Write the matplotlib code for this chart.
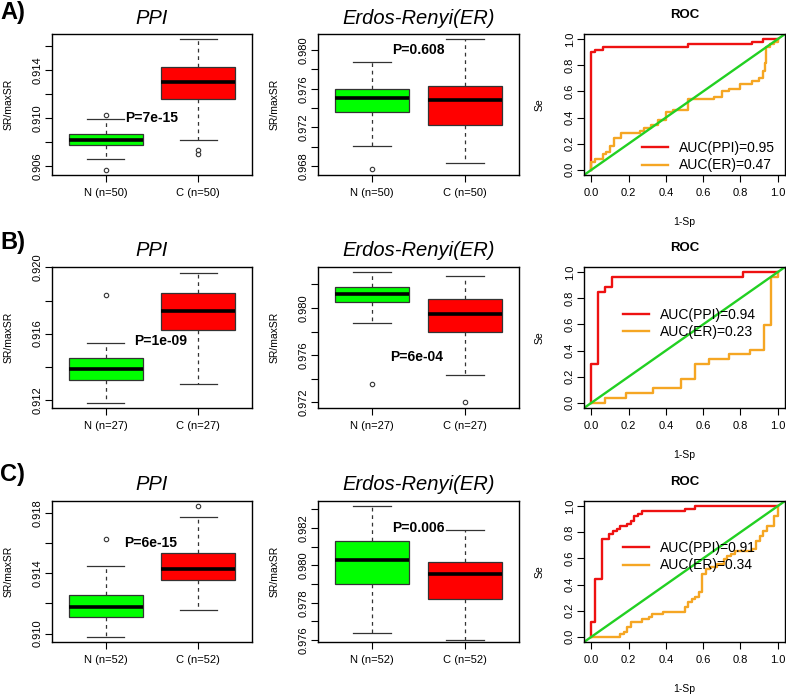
import numpy as np
import matplotlib.pyplot as plt

plt.rcParams['font.family'] = ['Liberation Sans', 'DejaVu Sans']

# box summaries: low whisker, q1, median, q3, high whisker
a_ppi_n = [0.90658, 0.90775, 0.90819, 0.90867, 0.90992]
a_ppi_c = [0.90817, 0.91161, 0.91297, 0.91422, 0.91656]
a_ppi_n_out = [0.91028, 0.90569]
a_ppi_c_out = [0.90730, 0.90703]
a_er_n = [0.97007, 0.97359, 0.97507, 0.97597, 0.97879]
a_er_c = [0.96828, 0.97227, 0.97483, 0.97631, 0.98111]
a_er_n_out = [0.96765]
a_er_c_out = []

b_ppi_n = [0.91183, 0.91318, 0.91384, 0.91453, 0.91544]
b_ppi_c = [0.91294, 0.91620, 0.91735, 0.91848, 0.91969]
b_ppi_n_out = [0.91831]
b_ppi_c_out = []
b_er_n = [0.97870, 0.98047, 0.98119, 0.98178, 0.98301]
b_er_c = [0.97433, 0.97793, 0.97946, 0.98079, 0.98267]
b_er_n_out = [0.97356]
b_er_c_out = [0.97200]

c_ppi_n = [0.90978, 0.91109, 0.91175, 0.91257, 0.91444]
c_ppi_c = [0.91157, 0.91352, 0.91426, 0.91535, 0.91773]
c_ppi_n_out = [0.91627]
c_ppi_c_out = [0.91845]
c_er_n = [0.97640, 0.97900, 0.98028, 0.98133, 0.98320]
c_er_c = [0.97603, 0.97821, 0.97954, 0.98020, 0.98190]
c_er_n_out = []
c_er_c_out = []

sizes = [50, 27, 52]
p_ppi = ['P=7e-15', 'P=1e-09', 'P=6e-15']
p_er = ['P=0.608', 'P=6e-04', 'P=0.006']
auc_ppi = [0.95, 0.94, 0.91]
auc_er = [0.47, 0.23, 0.34]

# ROC curves as (1-Sp, Se) corner points
roc_a_ppi = [(0, 0), (0, 0.90), (0.02, 0.90), (0.02, 0.92), (0.06, 0.92), (0.06, 0.94),
             (0.52, 0.94), (0.52, 0.96), (0.86, 0.96), (0.86, 0.98), (0.92, 0.98),
             (0.92, 1.0), (1, 1)]
roc_a_er = [(0, 0), (0, 0.06), (0.02, 0.06), (0.02, 0.08), (0.06, 0.08), (0.06, 0.12),
            (0.08, 0.12), (0.08, 0.14), (0.10, 0.14), (0.10, 0.18), (0.12, 0.18),
            (0.12, 0.24), (0.16, 0.24), (0.16, 0.28), (0.26, 0.28), (0.26, 0.30),
            (0.28, 0.30), (0.28, 0.32), (0.32, 0.32), (0.32, 0.34), (0.36, 0.34),
            (0.36, 0.38), (0.40, 0.38), (0.40, 0.44), (0.44, 0.44), (0.44, 0.46),
            (0.52, 0.46), (0.52, 0.54), (0.66, 0.54), (0.66, 0.56), (0.70, 0.56),
            (0.70, 0.60), (0.74, 0.60), (0.74, 0.62), (0.80, 0.62), (0.80, 0.66),
            (0.86, 0.66), (0.86, 0.68), (0.90, 0.68), (0.90, 0.70), (0.92, 0.70),
            (0.92, 0.76), (0.93, 0.76), (0.93, 0.82), (0.94, 0.82), (0.94, 0.94),
            (0.96, 0.94), (0.96, 0.96), (0.98, 0.96), (0.98, 0.98), (1, 0.98), (1, 1)]
roc_b_ppi = [(0, 0), (0, 0.296), (0.037, 0.296), (0.037, 0.852), (0.074, 0.852),
             (0.074, 0.889), (0.111, 0.889), (0.111, 0.963), (0.815, 0.963),
             (0.815, 1), (1, 1)]
roc_b_er = [(0, 0), (0.074, 0), (0.074, 0.037), (0.185, 0.037), (0.185, 0.074),
            (0.333, 0.074), (0.333, 0.111), (0.481, 0.111), (0.481, 0.185),
            (0.556, 0.185), (0.556, 0.296), (0.630, 0.296), (0.630, 0.333),
            (0.741, 0.333), (0.741, 0.370), (0.852, 0.370), (0.852, 0.407),
            (0.926, 0.407), (0.926, 0.593), (0.963, 0.593), (0.963, 0.963),
            (1, 0.963), (1, 1)]
roc_c_ppi = [(0, 0), (0, 0.115), (0.019, 0.115), (0.019, 0.442), (0.058, 0.442),
             (0.058, 0.75), (0.096, 0.75), (0.096, 0.788), (0.115, 0.788),
             (0.115, 0.808), (0.135, 0.808), (0.135, 0.827), (0.154, 0.827),
             (0.154, 0.846), (0.192, 0.846), (0.192, 0.865), (0.212, 0.865),
             (0.212, 0.885), (0.231, 0.885), (0.231, 0.923), (0.25, 0.923),
             (0.25, 0.942), (0.269, 0.942), (0.269, 0.962), (0.5, 0.962),
             (0.5, 0.981), (0.558, 0.981), (0.558, 1.0), (1, 1)]
roc_c_er = [(0, 0), (0.154, 0), (0.154, 0.019), (0.173, 0.019), (0.173, 0.038),
            (0.192, 0.038), (0.192, 0.077), (0.212, 0.077), (0.212, 0.115),
            (0.269, 0.115), (0.269, 0.135), (0.308, 0.135), (0.308, 0.154),
            (0.327, 0.154), (0.327, 0.173), (0.385, 0.173), (0.385, 0.192),
            (0.5, 0.192), (0.5, 0.231), (0.519, 0.231), (0.519, 0.269),
            (0.538, 0.269), (0.538, 0.288), (0.558, 0.288), (0.558, 0.308),
            (0.577, 0.308), (0.577, 0.346), (0.596, 0.346), (0.596, 0.481),
            (0.615, 0.481), (0.615, 0.519), (0.635, 0.519), (0.635, 0.538),
            (0.673, 0.538), (0.673, 0.558), (0.712, 0.558), (0.712, 0.596),
            (0.731, 0.596), (0.731, 0.615), (0.75, 0.615), (0.75, 0.635),
            (0.769, 0.635), (0.769, 0.654), (0.865, 0.654), (0.865, 0.673),
            (0.885, 0.673), (0.885, 0.731), (0.904, 0.731), (0.904, 0.769),
            (0.923, 0.769), (0.923, 0.808), (0.942, 0.808), (0.942, 0.846),
            (0.981, 0.846), (0.981, 0.923), (1.0, 0.923), (1.0, 1.0)]

W, H = 786, 694
fig = plt.figure(figsize=(W / 100, H / 100), dpi=100)
edge = '#333333'


def add_ax(l, t, r, b):
    return fig.add_axes([l / W, 1 - b / H, (r - l) / W, (b - t) / H])


def box_panel(ax, n_stats, c_stats, n_out, c_out, n, ylim, lo, step, count, every, ptext, pxy, title):
    stats = []
    for s, out in ((n_stats, n_out), (c_stats, c_out)):
        stats.append(dict(whislo=s[0], q1=s[1], med=s[2], q3=s[3], whishi=s[4], fliers=out))
    bp = ax.bxp(stats, positions=[1, 2], widths=0.8, capwidths=0.4, patch_artist=True,
                boxprops=dict(edgecolor=edge, linewidth=0.9),
                medianprops=dict(color='black', linewidth=2.6, solid_capstyle='butt'),
                whiskerprops=dict(color=edge, linewidth=0.9, linestyle=(0, (3, 3))),
                capprops=dict(color=edge, linewidth=0.9),
                flierprops=dict(marker='o', markersize=3.2, markerfacecolor='none',
                                markeredgecolor=edge, markeredgewidth=0.8))
    for patch, col in zip(bp['boxes'], ['#00ff00', '#ff0000']):
        patch.set_facecolor(col)
    ax.set_xlim(0.42, 2.58)
    ax.set_ylim(*ylim)
    ax.set_xticks([1, 2], [f'N (n={n})', f'C (n={n})'])
    ticks = [lo + i * step for i in range(count)]
    labels = [f'{t:.3f}' if i % every == 0 else '' for i, t in enumerate(ticks)]
    ax.set_yticks(ticks, labels, rotation=90, va='center')
    ax.tick_params(axis='y', direction='out', length=5, width=0.8, labelsize=8, pad=1.5)
    ax.tick_params(axis='x', direction='out', length=5, width=0.8, labelsize=8, pad=4.5)
    for s in ax.spines.values():
        s.set_linewidth(1.0)
    ax.text(pxy[0], pxy[1], ptext, ha='center', va='center', fontsize=10, fontweight='bold')
    ax.text(0.5, 1 + 16 / 141, title, transform=ax.transAxes, ha='center', va='center',
            fontsize=14.5, style='italic')
    ax.text(-43 / 200, 0.5, 'SR/maxSR', transform=ax.transAxes, rotation=90,
            ha='center', va='center', fontsize=7.5)


def roc_panel(ax, ppi, er, a1, a2, leg_xy):
    l1, = ax.plot([p[0] for p in ppi], [p[1] for p in ppi], color='#ee1111', lw=1.7)
    l2, = ax.plot([p[0] for p in er], [p[1] for p in er], color='#f5a623', lw=1.7)
    ax.axline((0, 0), (1, 1), color='#22d022', lw=1.7)
    ax.set_xlim(-0.04, 1.04)
    ax.set_ylim(-0.04, 1.04)
    t = [0, 0.2, 0.4, 0.6, 0.8, 1.0]
    ax.set_xticks(t, [f'{v:.1f}' for v in t])
    ax.set_yticks(t, [f'{v:.1f}' for v in t], rotation=90, va='center')
    ax.tick_params(axis='y', direction='out', length=5, width=0.8, labelsize=8, pad=1.5)
    ax.tick_params(axis='x', direction='out', length=5, width=0.8, labelsize=8, pad=4.5)
    for s in ax.spines.values():
        s.set_linewidth(1.0)
    ax.legend([l1, l2], [f'AUC(PPI)={a1:.2f}', f'AUC(ER)={a2:.2f}'], loc='center left',
              bbox_to_anchor=leg_xy, frameon=False, fontsize=10, handlelength=1.9,
              handletextpad=0.8, labelspacing=0.25, borderpad=0, borderaxespad=0)
    ax.text(0.5, 1 + 18.5 / 140, 'ROC', transform=ax.transAxes, ha='center', va='center',
            fontsize=9.5, fontweight='bold')
    ax.text(-44 / 201, 0.5, 'Se', transform=ax.transAxes, rotation=90,
            ha='center', va='center', fontsize=7.5)
    ax.text(0.5, -47 / 140, '1-Sp', transform=ax.transAxes, ha='center', va='center',
            fontsize=7.5)


rows = [(34, 175), (267, 408), (501, 642)]
letters = [('A)', 12), ('B)', 243), ('C)', 475)]

ppi_data = [(a_ppi_n, a_ppi_c, a_ppi_n_out, a_ppi_c_out),
            (b_ppi_n, b_ppi_c, b_ppi_n_out, b_ppi_c_out),
            (c_ppi_n, c_ppi_c, c_ppi_n_out, c_ppi_c_out)]
er_data = [(a_er_n, a_er_c, a_er_n_out, a_er_c_out),
           (b_er_n, b_er_c, b_er_n_out, b_er_c_out),
           (c_er_n, c_er_c, c_er_n_out, c_er_c_out)]
roc_data = [(roc_a_ppi, roc_a_er), (roc_b_ppi, roc_b_er), (roc_c_ppi, roc_c_er)]

ppi_axis = [((0.90525, 0.917), 0.906, 0.002, 6, 2),
            ((0.9115, 0.92003), 0.912, 0.002, 5, 2),
            ((0.90944, 0.91877), 0.910, 0.002, 5, 2)]
er_axis = [((0.96707, 0.98166), 0.968, 0.002, 7, 2),
           ((0.97153, 0.98347), 0.972, 0.002, 6, 2),
           ((0.9759, 0.98345), 0.976, 0.001, 8, 2)]
ppi_pos = [(1.5, 0.910), (1.59, 0.91558), (1.49, 0.91598)]
er_pos = [(1.5, 0.980), (1.48, 0.97588), (1.5, 0.982)]
leg_pos = [(0.287, 0.13), (0.193, 0.60), (0.193, 0.605)]

for i, (t, b) in enumerate(rows):
    ax1 = add_ax(52, t, 252, b)
    box_panel(ax1, *ppi_data[i], sizes[i], *ppi_axis[i], p_ppi[i], ppi_pos[i], 'PPI')
    ax2 = add_ax(318, t, 519, b)
    box_panel(ax2, *er_data[i], sizes[i], *er_axis[i], p_er[i], er_pos[i], 'Erdos-Renyi(ER)')
    ax3 = add_ax(584, t, 785, b)
    roc_panel(ax3, *roc_data[i], auc_ppi[i], auc_er[i], leg_pos[i])
    fig.text(0.0, 1 - letters[i][1] / H, letters[i][0], ha='left', va='center',
             fontsize=17, fontweight='bold')

fig.savefig('out.png', dpi=100)
